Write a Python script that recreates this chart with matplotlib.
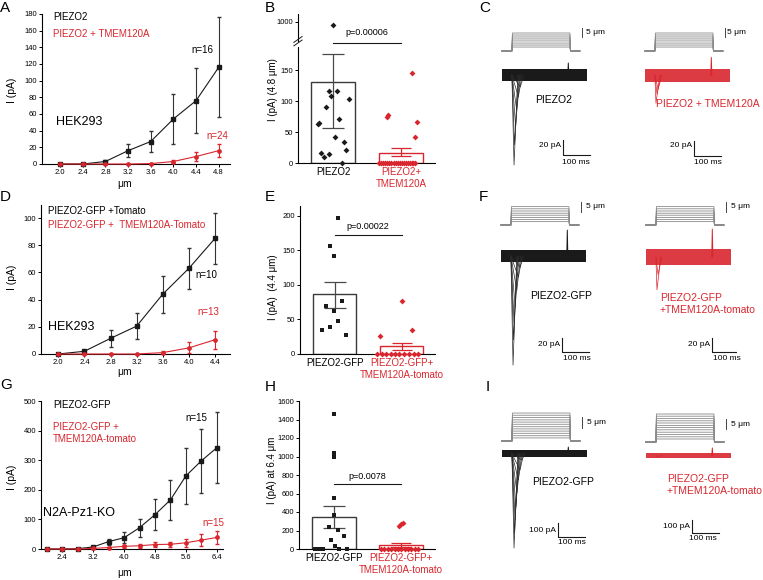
import matplotlib
matplotlib.use("Agg")
import matplotlib.pyplot as plt

W, H = 763, 580
RED = "#d9262e"
BLK = "#1a1a1a"
GRY = "#555555"
STIM = "#8a8a8a"

plt.rcParams.update({
    "font.family": ["Liberation Sans", "DejaVu Sans"],
    "axes.linewidth": 0.8,
    "xtick.major.width": 0.7,
    "ytick.major.width": 0.7,
    "xtick.major.size": 2,
    "ytick.major.size": 2,
    "xtick.labelsize": 5.5,
    "ytick.labelsize": 5.5,
    "xtick.major.pad": 1.5,
    "ytick.major.pad": 1.5,
})

# ---- A: HEK293, PIEZO2 vs PIEZO2 + TMEM120A
a_x = [2.0, 2.4, 2.8, 3.2, 3.6, 4.0, 4.4, 4.8]
a_ctrl = [0, 0, 3, 16, 27, 54, 76, 116]
a_ctrl_err = [0, 0, 2, 8, 13, 30, 39, 60]
a_tmem = [0, 0, 0, 0, 0.5, 3, 9, 16]
a_tmem_err = [0, 0, 0, 0, 1, 2, 5, 8]

# ---- D: HEK293, GFP-tagged
d_x = [2.0, 2.4, 2.8, 3.2, 3.6, 4.0, 4.4]
d_ctrl = [0, 2, 11.5, 20.5, 44, 63, 85]
d_ctrl_err = [0, 1, 6.5, 9.5, 13.5, 15, 19]
d_tmem = [0, 0, 0, 0, 1, 4.5, 10.5]
d_tmem_err = [0, 0, 0, 0, 1, 4, 6.5]

# ---- G: N2A-Pz1-KO
g_x = [2.0, 2.4, 2.8, 3.2, 3.6, 4.0, 4.4, 4.8, 5.2, 5.6, 6.0, 6.4]
g_ctrl = [0, 0, 1, 7, 25, 38, 72, 116, 166, 247, 298, 342]
g_ctrl_err = [0, 0, 1, 3, 10, 18, 30, 52, 68, 95, 109, 120]
g_tmem = [0, 0, 0, 2, 5, 9, 11, 15, 16, 21, 30, 39]
g_tmem_err = [0, 0, 0, 1, 3, 4, 6, 8, 9, 14, 19, 21]

# ---- B: single cells at 4.8 um
b_bar = [132, 17]
b_err_lo = [57, 11]
b_err_hi = [176, 25]
b_ctrl_x = [1.0, 0.94, 1.06, 0.97, 1.23, 0.90, 1.09, 0.80, 0.78, 1.03, 1.16, 1.19, 0.83, 0.87, 0.94, 1.13]
b_ctrl_y = [985, 116, 116, 108, 104, 91, 71, 65, 63, 42, 34, 21, 17, 10, 14, 0]
b_tmem_x = [2.16, 1.79, 1.81, 2.23, 2.21,
            1.68, 1.71, 1.74, 1.77, 1.80, 1.83, 1.86, 1.89, 1.92,
            1.95, 1.98, 2.01, 2.04, 2.07, 2.10, 2.13, 2.16, 2.18, 2.20]
b_tmem_y = [146, 74, 77, 67, 42] + [0] * 19
b_p = "p=0.00006"

# ---- E: single cells at 4.4 um
e_bar = [87, 11]
e_err_lo = [67, 6]
e_err_hi = [104, 16.5]
e_ctrl_x = [1.05, 0.94, 0.99, 0.87, 1.11, 0.99, 1.05, 0.93, 0.81, 1.17]
e_ctrl_y = [197, 156, 141, 70, 77, 62, 47, 39, 35, 27]
e_tmem_x = [2.0, 2.15, 1.68, 1.64, 1.71, 1.77, 1.84, 1.91, 1.97, 2.04, 2.11, 2.18, 2.25]
e_tmem_y = [77, 35, 26, 0, 0, 0, 0, 0, 0, 0, 0, 0, 0]
e_p = "p=0.00022"

# ---- H: single cells at 6.4 um
h_bar = [345, 40]
h_err_lo = [223, 18]
h_err_hi = [460, 65]
h_ctrl_x = [1.01, 1.0, 1.0, 1.0, 1.0, 0.93, 1.06, 1.15, 0.96, 1.02, 1.08, 0.72, 0.78, 0.84, 1.20]
h_ctrl_y = [1460, 1040, 990, 555, 365, 235, 210, 140, 95, 30, 5, 0, 0, 0, 0]
h_tmem_x = [1.97, 2.0, 2.02, 1.70, 1.75, 1.80, 1.85, 1.90, 1.95, 2.0, 2.05, 2.10, 2.15, 2.20, 2.25]
h_tmem_y = [250, 265, 280, 0, 0, 0, 0, 0, 0, 0, 0, 0, 0, 0, 0]
h_p = "p=0.0078"

# ---- C, F, I: example traces (ms, um, pA)
t_start, t_on, t_off, t_stim_end, t_end = 7, 44, 259, 296, 322
c_steps = [2.2, 3.3, 4.4, 5.6, 6.7, 7.8, 8.9, 10.0]
f_steps = [1.7, 2.8, 3.8, 4.9, 5.9, 7.0, 8.1, 9.2]
i_steps_l = [1.4, 2.4, 3.5, 4.5, 5.5, 6.5, 7.6, 8.6, 9.6, 10.7, 11.7, 12.7]
i_steps_r = [1.5, 2.6, 3.8, 4.9, 6.1, 7.2, 8.3, 9.5, 10.6, 11.7, 12.9, 14.0]

c_l_peaks = [-16, -29, -47, -69, -93, -120]
c_l_peak_t = [75, 68, 62, 58, 54, 52]
c_r_peaks = [-18, -25, -37]
c_r_peak_t = [56, 52, 48]
f_l_peaks = [-16, -30, -49, -73, -96, -120, -156]
f_l_peak_t = [78, 72, 66, 60, 56, 54, 52]
f_r_peaks = [-25, -47]
f_r_peak_t = [52, 48]
i_l_peaks = [-46, -118, -189, -282, -382, -475, -568, -675]
i_l_peak_t = [80, 74, 68, 63, 59, 56, 54, 52]
i_r_peaks = [-10]
i_r_peak_t = [50]

fig = plt.figure(figsize=(W / 100, H / 100), dpi=100)


def px_axes(x0, y0, x1, y1):
    return fig.add_axes([x0 / W, 1 - y1 / H, (x1 - x0) / W, (y1 - y0) / H])


def ptext(x, y, s, **kw):
    kw.setdefault("va", "center")
    kw.setdefault("fontsize", 7)
    fig.text(x / W, 1 - y / H, s, **kw)


# ── line charts ──────────────────────────────────────────────────────────────
def line_panel(rect, xlim, ylim, yticks, x, ctrl, ctrl_err, tmem, tmem_err, xticks):
    ax = px_axes(*rect)
    ax.errorbar(x, ctrl, yerr=ctrl_err, color=BLK, ecolor="#333333", lw=0.8,
                elinewidth=0.8, capsize=1.6, marker="s", ms=2.6, clip_on=False, zorder=3)
    ax.errorbar(x, tmem, yerr=tmem_err, color=RED, ecolor=RED, lw=0.8,
                elinewidth=0.8, capsize=1.6, marker="o", ms=2.4, clip_on=False, zorder=4)
    ax.set_xlim(*xlim)
    ax.set_ylim(*ylim)
    ax.set_yticks(yticks)
    ax.set_xticks(xticks)
    ax.set_xticklabels([f"{v:.1f}" for v in xticks])
    for s in ("top", "right"):
        ax.spines[s].set_visible(False)
    ax.tick_params(direction="out")
    return ax


line_panel((42, 14, 230, 164), (1.68, 5.0), (0, 180), range(0, 181, 20),
           a_x, a_ctrl, a_ctrl_err, a_tmem, a_tmem_err, a_x)
ptext(0, 8, "A", fontsize=11)
ptext(12, 90, "I (pA)", rotation=90, ha="center", fontsize=7.5)
ptext(125, 184, "μm", ha="center", fontsize=7.5)
ptext(53, 17, "PIEZO2")
ptext(53, 34, "PIEZO2 + TMEM120A", color=RED)
ptext(191, 50, "n=16")
ptext(206, 136, "n=24", color=RED)
ptext(56, 122, "HEK293", fontsize=9)

line_panel((41, 205, 230, 354), (1.735, 4.63), (0, 109.6), range(0, 101, 20),
           d_x, d_ctrl, d_ctrl_err, d_tmem, d_tmem_err, d_x)
ptext(0, 197, "D", fontsize=11)
ptext(12, 277, "I (pA)", rotation=90, ha="center", fontsize=7.5)
ptext(125, 372, "μm", ha="center", fontsize=7.5)
ptext(48, 211, "PIEZO2-GFP +Tomato")
ptext(48, 225, "PIEZO2-GFP +  TMEM120A-Tomato", color=RED)
ptext(195, 275, "n=10")
ptext(197, 312, "n=13", color=RED)
ptext(48, 327, "HEK293", fontsize=9)

line_panel((41, 401, 223, 549), (1.85, 6.56), (0, 500), range(0, 501, 100),
           g_x, g_ctrl, g_ctrl_err, g_tmem, g_tmem_err, g_x[1::2])
ptext(0, 385, "G", fontsize=11)
ptext(12, 477, "I (pA)", rotation=90, ha="center", fontsize=7.5)
ptext(125, 573, "μm", ha="center", fontsize=7.5)
ptext(53, 405, "PIEZO2-GFP")
ptext(53, 427, "PIEZO2-GFP +", color=RED)
ptext(53, 439, "TMEM120A-tomato", color=RED)
ptext(185, 418, "n=15")
ptext(202, 523, "n=15", color=RED)
ptext(43, 513, "N2A-Pz1-KO", fontsize=9)


# ── bar + scatter charts ─────────────────────────────────────────────────────
def bar_panel(ax, bar, lo, hi, cx, cy, tx, ty, ctrl_marker, tmem_marker, ymax):
    edge = ["#3a3a3a", RED]
    ax.bar([1, 2], bar, width=0.65, color="white", edgecolor=edge, lw=1.0, zorder=1)
    for i, c in enumerate(["#4a4a4a", RED]):
        ax.errorbar([i + 1], [bar[i]], yerr=[[bar[i] - lo[i]], [hi[i] - bar[i]]],
                    fmt="none", ecolor=c, elinewidth=0.9, capsize=8 if i == 0 else 7,
                    capthick=0.9, zorder=2)
    keep = [k for k, v in enumerate(cy) if v <= ymax]
    ax.scatter([cx[k] for k in keep], [cy[k] for k in keep], marker=ctrl_marker,
               s=9, color=BLK, lw=0, zorder=3, clip_on=False)
    ax.scatter(tx, ty, marker=tmem_marker, s=9, color=RED, lw=0, zorder=3, clip_on=False)
    ax.set_xlim(0.485, 2.5)
    ax.set_ylim(0, ymax)
    for s in ("top", "right"):
        ax.spines[s].set_visible(False)
    ax.tick_params(direction="out")
    ax.tick_params(axis="x", length=0, labelsize=7, pad=3)
    ax.set_xticks([1, 2])


def pline(ax, y, ytext, text):
    ax.plot([1.0, 2.0], [y, y], color=BLK, lw=0.8, clip_on=False)
    ax.text(1.5, ytext, text, ha="center", va="center", fontsize=6.5)


# B with broken axis
axb2 = px_axes(298, 14, 435, 41)
axb2.patch.set_visible(False)
axb2.scatter([x for x, y in zip(b_ctrl_x, b_ctrl_y) if y > 188],
             [y for y in b_ctrl_y if y > 188], marker="D", s=9, color=BLK, lw=0)
axb2.set_xlim(0.485, 2.5)
axb2.set_ylim(900, 1040)
axb2.set_yticks([1000])
axb2.set_xticks([])
for s in ("top", "right", "bottom"):
    axb2.spines[s].set_visible(False)
axb2.tick_params(direction="out")

axb = px_axes(298, 47, 435, 163)
axb.patch.set_visible(False)
bar_panel(axb, b_bar, b_err_lo, b_err_hi, b_ctrl_x, b_ctrl_y, b_tmem_x, b_tmem_y, "D", "D", 188)
axb.set_yticks([0, 50, 100, 150])
axb.set_xticklabels(["PIEZO2", "PIEZO2+\nTMEM120A"])
axb.get_xticklabels()[1].set_color(RED)
axb.plot([-0.03, 0.03], [1.01, 1.06], transform=axb.transAxes, color=BLK, lw=0.7, clip_on=False)
axb.plot([-0.03, 0.03], [1.04, 1.09], transform=axb.transAxes, color=BLK, lw=0.7, clip_on=False)
pline(axb, 194, 212, b_p)
ptext(265, 8, "B", fontsize=11)
ptext(273, 90, "I (pA) (4.8 μm)", rotation=90, ha="center", fontsize=7)

axe = px_axes(300, 206, 435, 354)
bar_panel(axe, e_bar, e_err_lo, e_err_hi, e_ctrl_x, e_ctrl_y, e_tmem_x, e_tmem_y, "s", "D", 214)
axe.set_yticks([0, 50, 100, 150, 200])
axe.set_xticklabels(["PIEZO2-GFP", "PIEZO2-GFP+\nTMEM120A-tomato"])
axe.get_xticklabels()[1].set_color(RED)
pline(axe, 172, 185, e_p)
ptext(265, 197, "E", fontsize=11)
ptext(273, 287, "I (pA)  (4.4 μm)", rotation=90, ha="center", fontsize=7)

axh = px_axes(299, 401, 435, 549)
bar_panel(axh, h_bar, h_err_lo, h_err_hi, h_ctrl_x, h_ctrl_y, h_tmem_x, h_tmem_y, "s", "D", 1600)
axh.set_yticks(range(0, 1601, 200))
axh.set_xticklabels(["PIEZO2-GFP", "PIEZO2-GFP+\nTMEM120A-tomato"])
axh.get_xticklabels()[1].set_color(RED)
pline(axh, 703, 780, h_p)
ptext(265, 387, "H", fontsize=11)
ptext(272, 470, "I (pA) at 6.4 μm", rotation=90, ha="center", fontsize=7)

# ── example traces ───────────────────────────────────────────────────────────
MS_PX = 0.27
T_SPAN = 345


def trace_axes(x0, base_px, per_px, top_px, bot_px):
    ax = px_axes(x0, top_px, x0 + T_SPAN * MS_PX, bot_px)
    ax.set_xlim(0, T_SPAN)
    ax.set_ylim((base_px - bot_px) * per_px, (base_px - top_px) * per_px)
    ax.axis("off")
    return ax


def trace(x0, stim_base, um_px, steps, um_bar_y, cur_base, pa_px, color, noise,
          peaks, peak_t, spike, sb_t, sb_y, sb_pa):
    sa = trace_axes(x0, stim_base, um_px, stim_base - 32, stim_base + 4)
    for a in steps:
        sa.plot([t_start, t_on, t_on + 2, t_off, t_off + 2, t_stim_end],
                [0, 0, a, a, 0, 0], color=STIM, lw=0.6)
    sa.plot([304, 304], [um_bar_y, um_bar_y + 5], color="#444444", lw=0.7)

    ca = trace_axes(x0, cur_base, pa_px, cur_base - 30, cur_base + 130)
    ca.fill_between([t_start, t_end], [-noise, -noise], [noise, noise],
                    color=color, lw=0, alpha=1.0 if color == BLK else 0.9)
    lc = "#2a2a2a" if color == BLK else color
    for p, tp in zip(peaks, peak_t):
        ca.plot([t_on, tp, tp + 14], [0, p, 0], color=lc, lw=0.5)
    ca.plot([t_off - 8, t_off - 6, t_off - 4], [0, spike, 0], color=color, lw=0.7)
    ca.plot([sb_t, sb_t, sb_t + 100], [sb_y + sb_pa, sb_y, sb_y], color=BLK, lw=0.8)


# C
trace(500, 51, 0.556, c_steps, 7.8, 75, 1.333, BLK, 8, c_l_peaks, c_l_peak_t, 16, 233, -107, 20)
trace(643, 51, 0.556, c_steps, 7.8, 75.5, 1.333, RED, 9, c_r_peaks, c_r_peak_t, 24, 189, -107, 20)
ptext(479, 8, "C", fontsize=11)
ptext(586, 33, "5 μm", fontsize=6)
ptext(727, 33, "5 μm", fontsize=6)
ptext(535, 100, "PIEZO2", fontsize=7.5)
ptext(656, 104, "PIEZO2 + TMEM120A", fontsize=7.5, color=RED)
ptext(561, 146, "20 pA", ha="right", fontsize=6)
ptext(576, 162, "100 ms", ha="center", fontsize=6)
ptext(692, 146, "20 pA", ha="right", fontsize=6)
ptext(708, 162, "100 ms", ha="center", fontsize=6)

# F
trace(499, 225, 0.5, f_steps, 6.5, 256, 1.43, BLK, 8, f_l_peaks, f_l_peak_t, 37, 233, -137, 20)
trace(644, 225, 0.5, f_steps, 6.5, 257, 1.43, RED, 12, f_r_peaks, f_r_peak_t, 40, 252, -136, 20)
ptext(479, 197, "F", fontsize=11)
ptext(586, 207, "5 μm", fontsize=6)
ptext(731, 207, "5 μm", fontsize=6)
ptext(530, 296, "PIEZO2-GFP", fontsize=7.5)
ptext(660, 298, "PIEZO2-GFP", fontsize=7.5, color=RED)
ptext(660, 310, "+TMEM120A-tomato", fontsize=7.5, color=RED)
ptext(560, 344, "20 pA", ha="right", fontsize=6)
ptext(577, 358, "100 ms", ha="center", fontsize=6)
ptext(710, 344, "20 pA", ha="right", fontsize=6)
ptext(727, 359, "100 ms", ha="center", fontsize=6)

# I
trace(500, 441, 0.4545, i_steps_l, 5.9, 453.5, 7.14, BLK, 25, i_l_peaks, i_l_peak_t, 46, 215, -596, 100)
trace(644, 442, 0.5, i_steps_r, 6.5, 455.5, 7.7, RED, 19, i_r_peaks, i_r_peak_t, 58, 178, -596, 100)
ptext(486, 387, "I", fontsize=11)
ptext(587, 422, "5 μm", fontsize=6)
ptext(731, 424, "5 μm", fontsize=6)
ptext(532, 482, "PIEZO2-GFP", fontsize=7.5)
ptext(667, 479, "PIEZO2-GFP", fontsize=7.5, color=RED)
ptext(667, 491, "+TMEM120A-tomato", fontsize=7.5, color=RED)
ptext(556, 530, "100 pA", ha="right", fontsize=6)
ptext(572, 543, "100 ms", ha="center", fontsize=6)
ptext(690, 526, "100 pA", ha="right", fontsize=6)
ptext(703, 539, "100 ms", ha="center", fontsize=6)

fig.savefig("out.png", dpi=100)
